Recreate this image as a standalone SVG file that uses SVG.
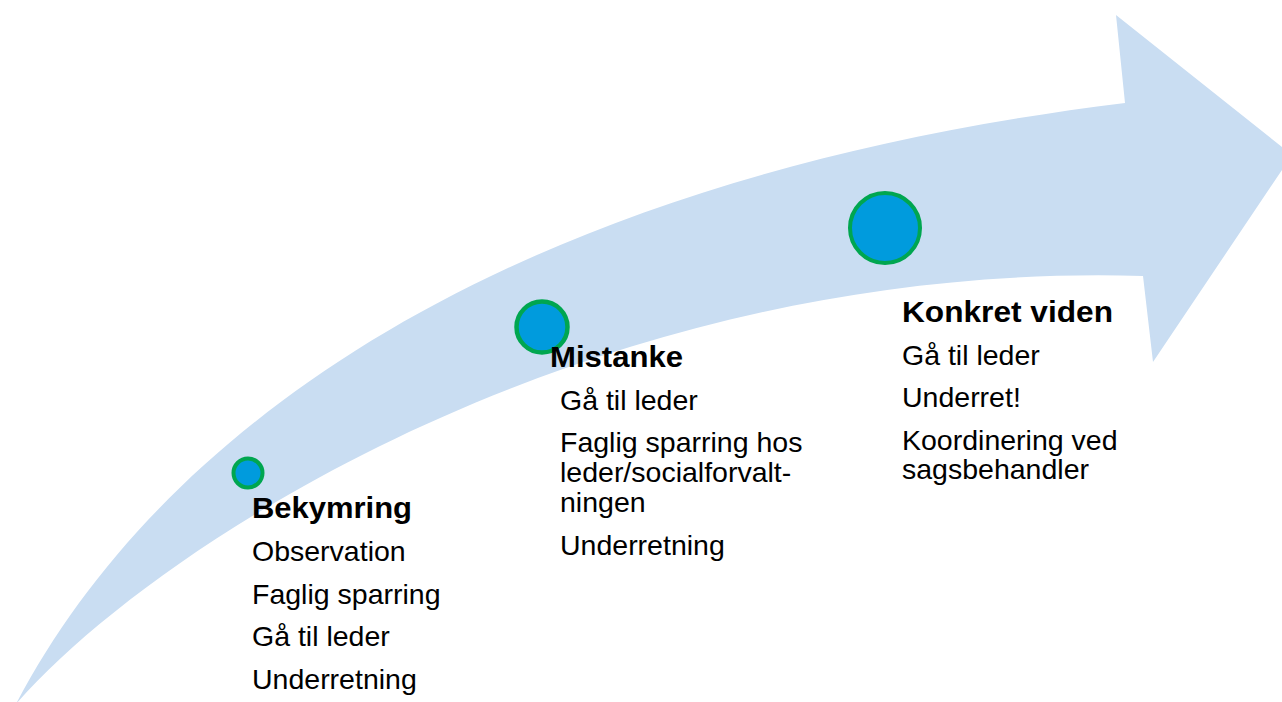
<svg xmlns="http://www.w3.org/2000/svg" width="1282" height="702" viewBox="0 0 1282 702">
<style>
.t{font-family:"Liberation Sans",Arial,sans-serif;font-size:28.5px;fill:#000}
.h{font-family:"Liberation Sans",Arial,sans-serif;font-size:30px;font-weight:bold;fill:#000}
.dot{fill:#009BDD;stroke:#00A650}
</style>
<rect width="1282" height="702" fill="#fff"/>
<g id="arrow">
<path d="M16,704 C160,430 500,180 1125,103 L1116,15 L1292,155 L1153,362 L1143,276 C600,260 160,540 16,704 Z" fill="#C9DDF2"/>
</g>
<g id="node-bekymring">
<circle class="dot" cx="248" cy="473" r="14.5" stroke-width="4"/>
<text class="h" x="252" y="517.5" textLength="160" lengthAdjust="spacingAndGlyphs">Bekymring</text>
<text class="t" x="252" y="560.5">Observation</text>
<text class="t" x="252" y="603.5">Faglig sparring</text>
<text class="t" x="252" y="646">Gå til leder</text>
<text class="t" x="252" y="689">Underretning</text>
</g>
<g id="node-mistanke">
<circle class="dot" cx="542" cy="327" r="25.5" stroke-width="4.5"/>
<text class="h" x="550" y="367" textLength="133" lengthAdjust="spacingAndGlyphs">Mistanke</text>
<text class="t" x="560" y="409.5">Gå til leder</text>
<text class="t" x="560" y="452">Faglig sparring hos</text>
<text class="t" x="560" y="482">leder/socialforvalt-</text>
<text class="t" x="560" y="512">ningen</text>
<text class="t" x="560" y="554.5">Underretning</text>
</g>
<g id="node-konkret">
<circle class="dot" cx="885" cy="228" r="35" stroke-width="4"/>
<text class="h" x="902" y="322" textLength="211" lengthAdjust="spacingAndGlyphs">Konkret viden</text>
<text class="t" x="902" y="364.5">Gå til leder</text>
<text class="t" x="902" y="407">Underret!</text>
<text class="t" x="902" y="449.5">Koordinering ved</text>
<text class="t" x="902" y="479">sagsbehandler</text>
</g>
<g id="connectors"></g>
</svg>
